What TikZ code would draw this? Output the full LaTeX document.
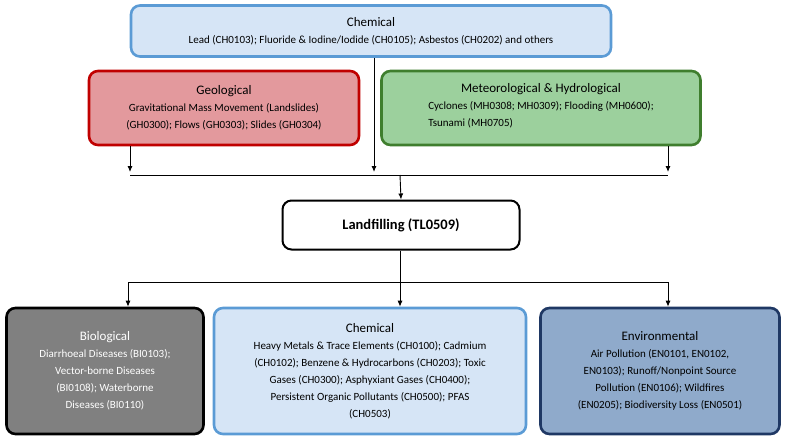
\documentclass[tikz,border=0pt]{standalone}
\usepackage{fontspec}
\setmainfont{Carlito}
\usetikzlibrary{arrows.meta}
\definecolor{lblue}{HTML}{D6E5F6}
\definecolor{bblue}{HTML}{5B9BD5}
\definecolor{lred}{HTML}{E3999D}
\definecolor{bred}{HTML}{C00000}
\definecolor{lgreen}{HTML}{9CD09D}
\definecolor{bgreen}{HTML}{3F7E2E}
\definecolor{lgrey}{HTML}{808080}
\definecolor{lenv}{HTML}{8FAACB}
\definecolor{benv}{HTML}{1F3864}
\newcommand{\ttl}[1]{{\fontsize{13}{17}\selectfont #1}}
\begin{document}
\begin{tikzpicture}[x=1pt,y=-1pt,
 box/.style={rounded corners=9pt,line width=2.6pt,align=center,inner sep=2pt,font=\fontsize{11}{17}\selectfont},
 arr/.style={-{Latex[length=6pt,width=5pt]},line width=0.9pt},
 ln/.style={line width=0.9pt}]
\useasboundingbox (0,0) rectangle (789,441);
\node[box,draw=bblue,fill=lblue,minimum width=480pt,minimum height=51pt] (top) at (371,31)
 {\ttl{Chemical}\\Lead (CH0103); Fluoride \& Iodine/Iodide (CH0105); Asbestos (CH0202) and others};
\node[box,draw=bred,fill=lred,minimum width=270pt,minimum height=74pt] (geo) at (224,108)
 {\ttl{Geological}\\Gravitational Mass Movement (Landslides)\\(GH0300); Flows (GH0303); Slides (GH0304)};
\node[box,draw=bgreen,fill=lgreen,minimum width=319pt,minimum height=74pt] (met) at (541,108)
 {\ttl{Meteorological \& Hydrological}\\{\renewcommand{\arraystretch}{1}\begin{tabular}[t]{@{}l@{}}Cyclones (MH0308; MH0309); Flooding (MH0600);\\Tsunami (MH0705)\end{tabular}}};
\node[box,draw=black,line width=2pt,fill=white,minimum width=237pt,minimum height=49pt,font=\fontsize{14.5}{17}\selectfont\bfseries] (land) at (401,225) {Landfilling (TL0509)};
\node[box,draw=black,fill=lgrey,text=white,minimum width=197pt,minimum height=126pt] (bio) at (105,371)
 {\ttl{Biological}\\Diarrhoeal Diseases (BI0103);\\Vector-borne Diseases\\(BI0108); Waterborne\\Diseases (BI0110)};
\node[box,draw=bblue,fill=lblue,minimum width=312pt,minimum height=126pt] (chem) at (370,371)
 {\ttl{Chemical}\\Heavy Metals \& Trace Elements (CH0100); Cadmium\\(CH0102); Benzene \& Hydrocarbons (CH0203); Toxic\\Gases (CH0300); Asphyxiant Gases (CH0400);\\Persistent Organic Pollutants (CH0500); PFAS\\(CH0503)};
\node[box,draw=benv,fill=lenv,minimum width=239pt,minimum height=126pt] (env) at (660,371)
 {\ttl{Environmental}\\Air Pollution (EN0101, EN0102,\\EN0103); Runoff/Nonpoint Source\\Pollution (EN0106); Wildfires\\(EN0205); Biodiversity Loss (EN0501)};
\coordinate (j1) at (400,175);
\coordinate (j2) at (400,282);
\draw[arr] (top.south -| 374,0) -- (374,172);
\draw[arr] (geo.south -| 130,0) -- (130,172);
\draw[arr] (met.south -| 668,0) -- (668,172);
\draw[ln] (130,175) -- (668,175);
\draw[arr] (j1) -- (land.north);
\draw[ln] (land.south -| 400,0) -- (j2);
\draw[ln] (128,282) -- (668,282);
\draw[arr] (128,282) -- (bio.north -| 128,0);
\draw[arr] (j2) -- (chem.north -| 400,0);
\draw[arr] (668,282) -- (env.north -| 668,0);
\end{tikzpicture}
\end{document}
